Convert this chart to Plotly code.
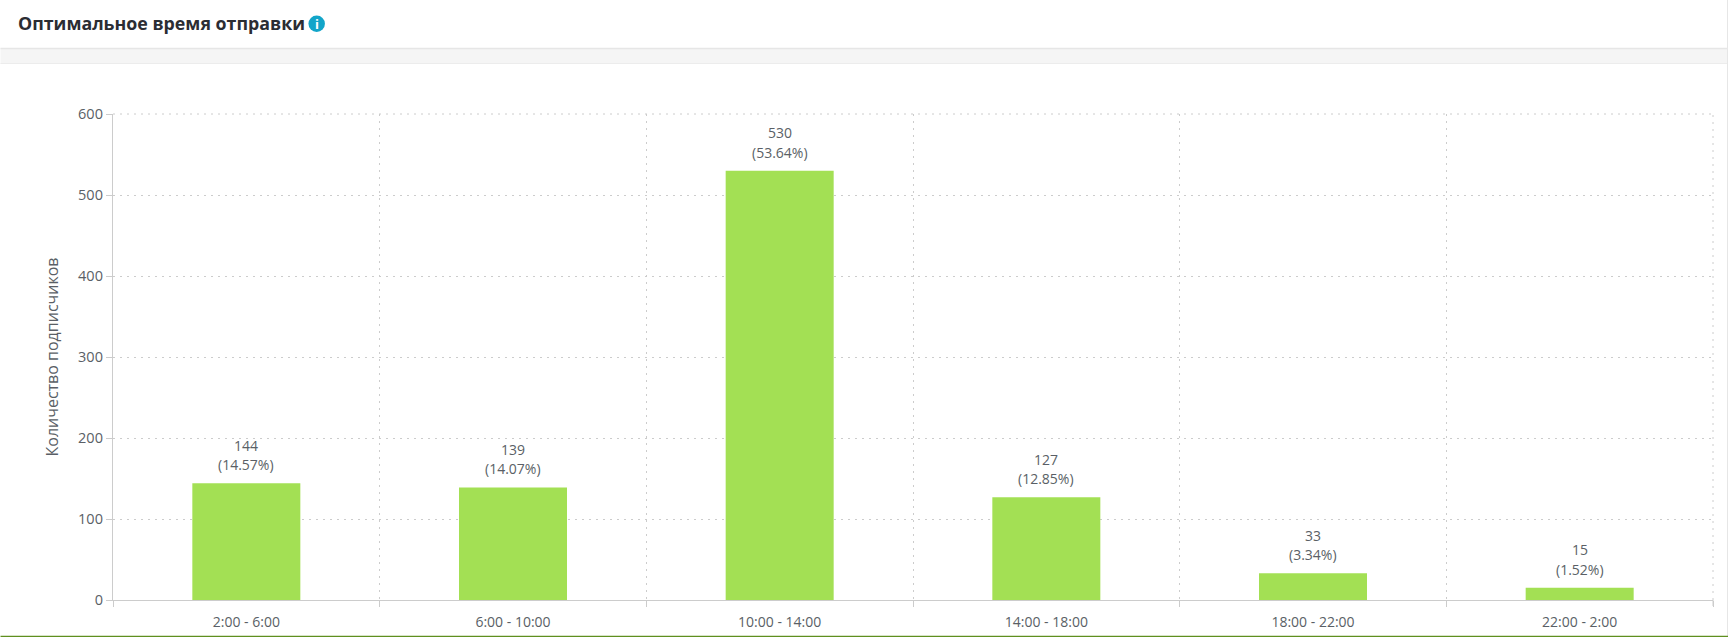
import plotly.graph_objects as go

categories = ["2:00 - 6:00", "6:00 - 10:00", "10:00 - 14:00", "14:00 - 18:00", "18:00 - 22:00", "22:00 - 2:00"]
subscribers = [144, 139, 530, 127, 33, 15]
percents = ["14.57%", "14.07%", "53.64%", "12.85%", "3.34%", "1.52%"]
y_ticks = [0, 100, 200, 300, 400, 500, 600]
title_text = "Оптимальное время отправки"
y_title = "Количество подписчиков"

W, H = 1728, 637
L, R, T, B = 112.5, 15, 114, 37
FONT = "Open Sans, Noto Sans, sans-serif"
TXT = "#5a5f66"
GRID = "#cccccc"
AXIS = "#cccccc"
DOTS = "2px,5px"

fig = go.Figure(go.Bar(
    x=categories, y=subscribers,
    marker=dict(color="#a3e054", line=dict(width=0)), hoverinfo="x+y",
))


def px(x):
    return (x - L) / (W - L - R)


def py(y):
    return 1 - (y - T) / (H - T - B)


def hline(y, color, width):
    return dict(type="line", xref="paper", yref="paper", x0=px(0), x1=px(W), y0=py(y), y1=py(y),
                line=dict(color=color, width=width), layer="below")


shapes = [
    dict(type="rect", xref="paper", yref="paper", x0=px(0), x1=px(W), y0=py(48), y1=py(64),
         fillcolor="#f5f5f5", line_width=0, layer="below"),
    hline(48.5, "#e6e6e6", 1.5),
    hline(63.5, "#ececec", 1),
    dict(type="line", xref="paper", yref="paper", x0=px(W - 0.5), x1=px(W - 0.5), y0=py(0), y1=py(H),
         line=dict(color="#e6e6e6", width=1), layer="below"),
    hline(636.5, "#5f8f1f", 1.5),
    dict(type="circle", xref="paper", yref="paper", x0=px(308), x1=px(324.5), y0=py(32), y1=py(15.5),
         fillcolor="#12a5c9", line_width=0),
    # dotted frame on the top and right edges of the plot, where the axes draw no grid line
    dict(type="line", xref="paper", yref="paper", x0=0, x1=1, y0=1, y1=1,
         line=dict(color=GRID, width=1, dash=DOTS), layer="below"),
    dict(type="line", xref="paper", yref="paper", x0=1, x1=1, y0=0, y1=1,
         line=dict(color=GRID, width=1, dash=DOTS), layer="below"),
    # closing tick under the right end of the x axis
    dict(type="line", xref="paper", yref="paper", x0=1, x1=1, y0=0, y1=py(606),
         line=dict(color=AXIS, width=1), layer="below"),
]

annotations = [
    dict(text=f"<b>{title_text}</b>", xref="paper", yref="paper", x=px(15.5), y=py(23.2), xanchor="left",
         yanchor="middle", showarrow=False, font=dict(family=FONT, size=17.8, color="#2b2d33")),
    dict(text="<b>i</b>", xref="paper", yref="paper", x=px(316.2), y=py(23.7), xanchor="center",
         yanchor="middle", showarrow=False, font=dict(family=FONT, size=13, color="#ffffff")),
]
for c, v, p in zip(categories, subscribers, percents):
    annotations.append(dict(text=str(v), x=c, y=v, yshift=38, yanchor="middle", showarrow=False,
                            font=dict(family=FONT, size=14, color=TXT)))
    annotations.append(dict(text=f"({p})", x=c, y=v, yshift=18.5, yanchor="middle", showarrow=False,
                            font=dict(family=FONT, size=14, color=TXT)))

fig.update_layout(
    width=W, height=H, margin=dict(l=L, r=R, t=T, b=B, pad=0, autoexpand=False),
    plot_bgcolor="#ffffff", paper_bgcolor="#ffffff", bargap=0.595, showlegend=False,
    font=dict(family=FONT, size=14, color=TXT), shapes=shapes, annotations=annotations,
)
fig.update_xaxes(
    type="category", tickson="boundaries", ticks="outside", ticklen=6, tickcolor=AXIS, tickwidth=1,
    showgrid=True, gridcolor=GRID, griddash=DOTS, gridwidth=1, showline=True, linecolor=AXIS, linewidth=1.3,
    tickfont=dict(family=FONT, size=14, color=TXT), zeroline=False, ticklabelstandoff=9, automargin=False,
)
fig.update_yaxes(
    range=[0, 600], tickvals=y_ticks, ticks="outside", ticklen=6, tickcolor=AXIS, tickwidth=1,
    showgrid=True, gridcolor=GRID, griddash=DOTS, gridwidth=1, showline=True, linecolor=AXIS, linewidth=1.3,
    tickfont=dict(family=FONT, size=14.5, color=TXT), zeroline=False, automargin=False,
    title=dict(text=y_title, font=dict(family=FONT, size=16, color=TXT), standoff=15),
)

fig.write_html("out.html", config={"displayModeBar": False},
               post_script="document.body.style.margin='0';document.documentElement.style.overflow='hidden';")
